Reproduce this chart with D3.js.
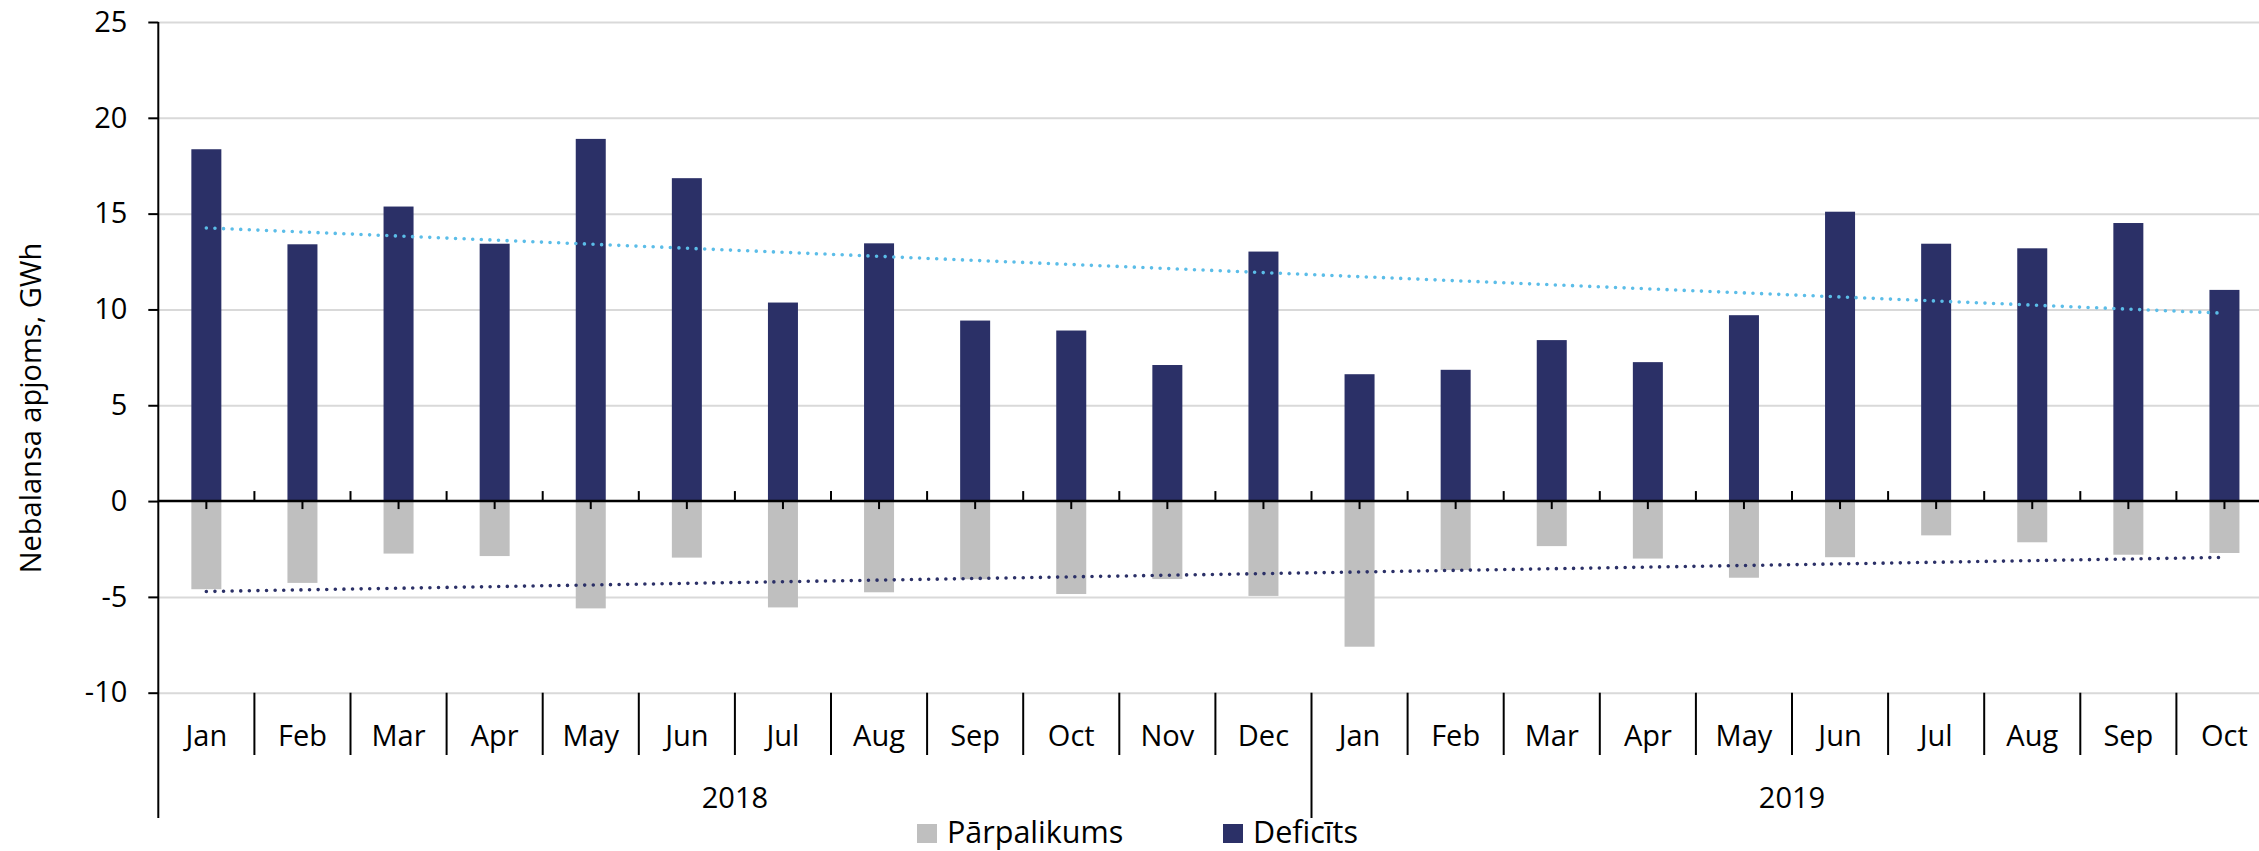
<!DOCTYPE html>
<html>
<head>
<meta charset="utf-8">
<script src="https://cdn.jsdelivr.net/npm/d3@7"></script>
<style>
  body { margin: 0; background: #fff; }
  svg { display: block; font-family: "Open Sans", sans-serif; }
</style>
</head>
<body>
<svg id="chart"></svg>
<script>
// months shown on the axis (two years)
const months = ["Jan", "Feb", "Mar", "Apr", "May", "Jun", "Jul", "Aug", "Sep", "Oct", "Nov", "Dec",
  "Jan", "Feb", "Mar", "Apr", "May", "Jun", "Jul", "Aug", "Sep", "Oct"];
const years = ["2018", "2019"];
const yearSpan = [12, 10]; // months per year group

// Deficīts (positive) and Pārpalikums (negative), GWh
const deficit = [18.36, 13.40, 15.37, 13.43, 18.90, 16.85, 10.36, 13.45, 9.42, 8.90, 7.10, 13.02,
  6.62, 6.85, 8.40, 7.25, 9.70, 15.10, 13.43, 13.19, 14.51, 11.02];
const surplus = [-4.60, -4.27, -2.74, -2.87, -5.60, -2.95, -5.55, -4.76, -4.08, -4.85, -4.07, -4.95,
  -7.60, -3.60, -2.35, -3.00, -4.00, -2.93, -1.79, -2.15, -2.80, -2.71];
const yTicks = [-10, -5, 0, 5, 10, 15, 20, 25];

const W = 2259, H = 851;
const plotLeft = 158.3, plotTop = 22, plotBottom = 692.7;
const step = 96.1;
const plotRight = plotLeft + step * months.length;

const svg = d3.select("#chart").attr("width", W).attr("height", H);

const x = d3.scaleBand().domain(d3.range(months.length)).range([plotLeft, plotRight]).padding(0);
const y = d3.scaleLinear().domain([-10, 25]).range([plotBottom, plotTop]);
const barW = 30;
const navy = "#2b3067", grey = "#bfbfbf", lightBlue = "#5bbde8";

// gridlines
svg.append("g")
  .attr("transform", `translate(${plotLeft},0)`)
  .call(d3.axisLeft(y).tickValues(yTicks.filter(d => d !== 0)).tickSize(-(W - plotLeft)).tickFormat(""))
  .call(g => g.select(".domain").remove())
  .call(g => g.selectAll("line").attr("stroke", "#d9d9d9").attr("stroke-width", 2));

// bars
svg.append("g").selectAll("rect.def")
  .data(deficit)
  .join("rect")
  .attr("class", "def")
  .attr("x", (d, i) => x(i) + x.bandwidth() / 2 - barW / 2)
  .attr("y", d => y(d))
  .attr("width", barW)
  .attr("height", d => y(0) - y(d))
  .attr("fill", navy);

svg.append("g").selectAll("rect.sur")
  .data(surplus)
  .join("rect")
  .attr("class", "sur")
  .attr("x", (d, i) => x(i) + x.bandwidth() / 2 - barW / 2)
  .attr("y", y(0))
  .attr("width", barW)
  .attr("height", d => y(d) - y(0))
  .attr("fill", grey);

// linear trend lines (least squares, like the spreadsheet trendline)
function trend(values) {
  const n = values.length;
  const mx = (n - 1) / 2, my = d3.mean(values);
  let sxy = 0, sxx = 0;
  values.forEach((v, i) => { sxy += (i - mx) * (v - my); sxx += (i - mx) * (i - mx); });
  const b = sxy / sxx;
  return [[0, my - b * mx], [n - 1, my + b * (n - 1 - mx)]];
}
const line = d3.line().x(d => x(d[0]) + x.bandwidth() / 2).y(d => y(d[1]));

svg.append("path")
  .attr("d", line(trend(deficit)))
  .attr("fill", "none")
  .attr("stroke", lightBlue)
  .attr("stroke-width", 3.6)
  .attr("stroke-linecap", "round")
  .attr("stroke-dasharray", "0,8.6");

svg.append("path")
  .attr("d", line(trend(surplus)))
  .attr("fill", "none")
  .attr("stroke", navy)
  .attr("stroke-width", 3.6)
  .attr("stroke-linecap", "round")
  .attr("stroke-dasharray", "0,8.6");

// y axis (plain hyphen for negatives)
svg.append("g")
  .attr("transform", `translate(${plotLeft},0)`)
  .call(d3.axisLeft(y).tickValues(yTicks).tickSize(10).tickPadding(21).tickFormat(d => String(d)))
  .call(g => g.select(".domain").remove())
  .call(g => g.selectAll("line").attr("stroke", "#000").attr("stroke-width", 2))
  .call(g => g.selectAll("text").attr("font-size", 29).attr("fill", "#000").attr("font-family", "Open Sans"));

svg.append("line")
  .attr("x1", plotLeft).attr("x2", plotLeft)
  .attr("y1", plotTop).attr("y2", 818)
  .attr("stroke", "#000").attr("stroke-width", 2);

// zero line with ticks
svg.append("line")
  .attr("x1", plotLeft).attr("x2", W)
  .attr("y1", y(0)).attr("y2", y(0))
  .attr("stroke", "#000").attr("stroke-width", 2.4);

svg.append("g").selectAll("line.ct")
  .data(months)
  .join("line")
  .attr("x1", (d, i) => x(i) + x.bandwidth() / 2)
  .attr("x2", (d, i) => x(i) + x.bandwidth() / 2)
  .attr("y1", y(0)).attr("y2", y(0) + 8)
  .attr("stroke", "#000").attr("stroke-width", 2);

svg.append("g").selectAll("line.st")
  .data(d3.range(1, months.length))
  .join("line")
  .attr("x1", i => x(i)).attr("x2", i => x(i))
  .attr("y1", y(0) - 10).attr("y2", y(0))
  .attr("stroke", "#000").attr("stroke-width", 2);

// category axis below the plot
svg.append("g").selectAll("line.sep")
  .data(d3.range(1, months.length))
  .join("line")
  .attr("x1", i => x(i)).attr("x2", i => x(i))
  .attr("y1", plotBottom).attr("y2", i => i === yearSpan[0] ? 818 : 755)
  .attr("stroke", "#000").attr("stroke-width", 2);

svg.append("g").selectAll("text.month")
  .data(months)
  .join("text")
  .attr("x", (d, i) => x(i) + x.bandwidth() / 2)
  .attr("y", 745.5)
  .attr("text-anchor", "middle")
  .attr("font-size", 29)
  .attr("fill", "#000")
  .text(d => d);

let start = 0;
years.forEach((yr, k) => {
  const x0 = x(start);
  const x1 = start + yearSpan[k] < months.length ? x(start + yearSpan[k]) : plotRight;
  svg.append("text")
    .attr("x", (x0 + x1) / 2)
    .attr("y", 808)
    .attr("text-anchor", "middle")
    .attr("font-size", 29)
    .attr("fill", "#000")
    .text(yr);
  start += yearSpan[k];
});

// y title
svg.append("text")
  .attr("transform", `translate(41,408) rotate(-90)`)
  .attr("text-anchor", "middle")
  .attr("font-size", 29)
  .attr("fill", "#000")
  .text("Nebalansa apjoms, GWh");

// legend
const legendData = [
  { label: "Pārpalikums", color: grey, x: 917 },
  { label: "Deficīts", color: navy, x: 1223 }
];
const legend = svg.append("g").selectAll("g")
  .data(legendData)
  .join("g")
  .attr("transform", d => `translate(${d.x},824)`);
legend.append("rect")
  .attr("width", 20).attr("height", 19)
  .attr("fill", d => d.color);
legend.append("text")
  .attr("x", 30).attr("y", 19)
  .attr("font-size", 30.5)
  .attr("fill", "#000")
  .text(d => d.label);
</script>
</body>
</html>
